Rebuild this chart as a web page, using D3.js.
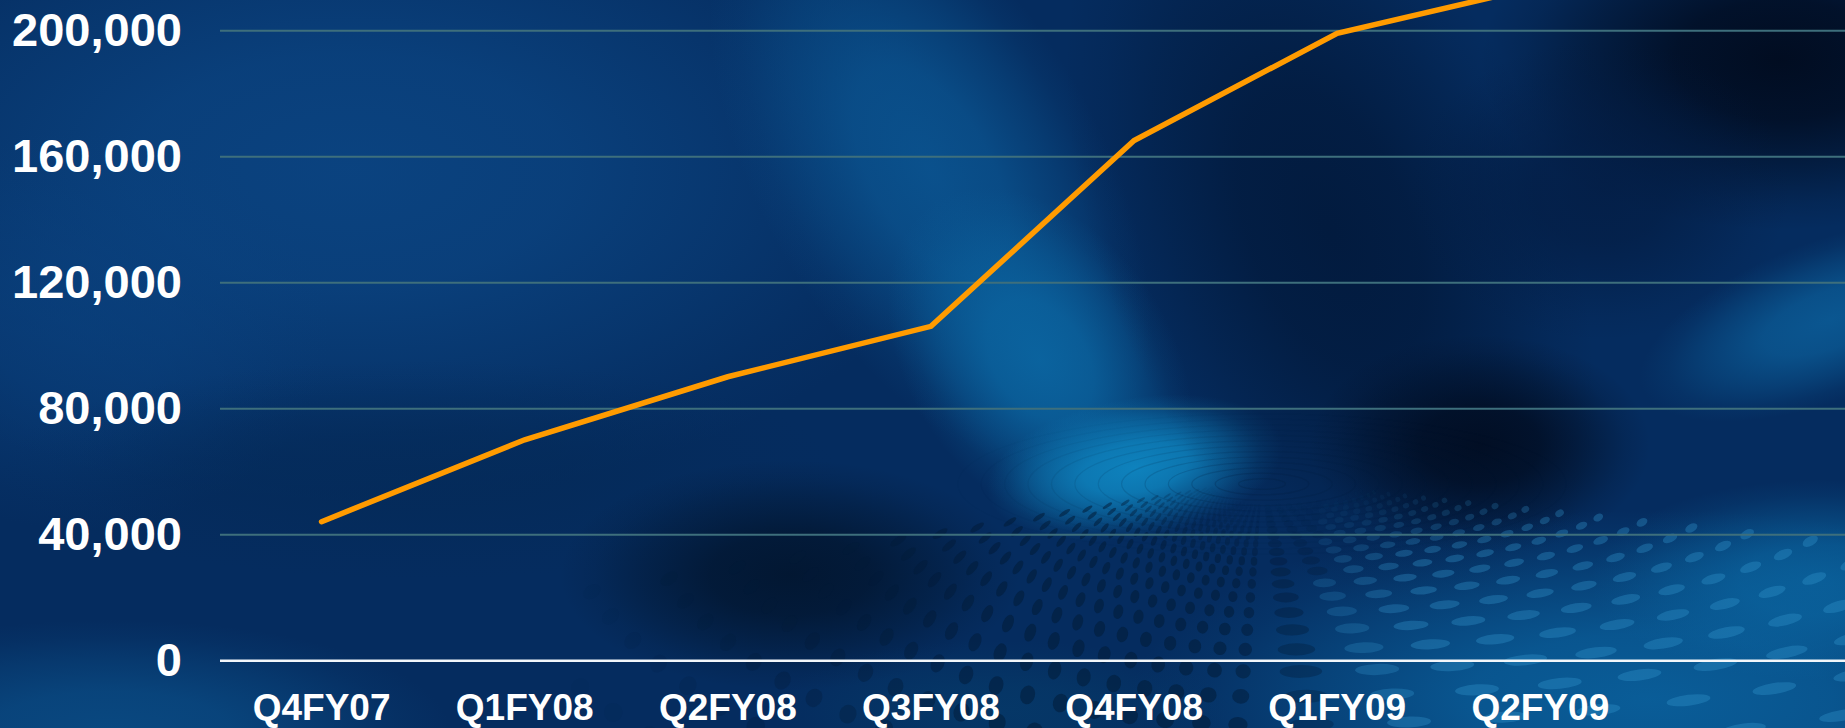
<!DOCTYPE html>
<html>
<head>
<meta charset="utf-8">
<script src="https://cdn.jsdelivr.net/npm/d3@7"></script>
<style>
  html, body { margin: 0; padding: 0; background: #052b5e; overflow: hidden; }
  svg { display: block; }
</style>
</head>
<body>
<svg id="chart" width="1845" height="728"></svg>
<script>
// ---- data ----
const categories = ["Q4FY07", "Q1FY08", "Q2FY08", "Q3FY08", "Q4FY08", "Q1FY09", "Q2FY09"];
const values = [44000, 70000, 90000, 106000, 165000, 199000, 214000];
const yTicks = [0, 40000, 80000, 120000, 160000, 200000];

// ---- layout ----
const W = 1845, H = 728;
const left = 220, slot = 203.125;
const svg = d3.select("#chart");
const defs = svg.append("defs");

// ---- background (decoration) ----
const bg = svg.append("g");
bg.append("rect").attr("width", W).attr("height", H).attr("fill", "#052c5f");

let gid = 0;
function blob(cx, cy, rx, ry, color, op, rot) {
  const id = "g" + (gid++);
  const g = defs.append("radialGradient").attr("id", id);
  [[0, 1], [0.35, 0.85], [0.65, 0.45], [0.85, 0.15], [1, 0]].forEach(s => {
    g.append("stop").attr("offset", s[0]).attr("stop-color", color).attr("stop-opacity", op * s[1]);
  });
  bg.append("ellipse").attr("cx", cx).attr("cy", cy).attr("rx", rx).attr("ry", ry)
    .attr("transform", `rotate(${rot || 0},${cx},${cy})`)
    .attr("fill", `url(#${id})`);
}
// light upper-left
blob(350, 170, 620, 330, "#0b4583", 0.9);
blob(80, 330, 250, 200, "#0a4280", 0.6);
// left middle slightly darker
blob(420, 470, 420, 110, "#042a58", 0.7);
// diagonal beam
blob(930, 170, 170, 330, "#0b5794", 0.85, -30);
blob(1040, 360, 130, 190, "#0b67a3", 0.9, -35);
blob(1135, 468, 150, 70, "#0e82bd", 1.0, -10);
// dark column right of beam
blob(1330, 230, 230, 420, "#021a3d", 0.95, -22);
blob(1480, 445, 170, 110, "#010d22", 0.95);
blob(1780, 60, 300, 170, "#010b1e", 0.95);
blob(1600, 190, 190, 150, "#031a3f", 0.7);
// light streak right edge
blob(1830, 320, 200, 80, "#0b5b96", 0.9, -20);
// dark blob centre bottom
blob(790, 575, 230, 115, "#021630", 0.95);
// bottom-left glow
blob(110, 730, 340, 110, "#0a4d86", 0.85);
// bottom-right glow
blob(1650, 700, 520, 190, "#0a629e", 0.9);
blob(1820, 580, 230, 100, "#0b6ca8", 0.7);
blob(1000, 710, 230, 70, "#06426f", 0.5);

// perspective dot field
const C = [1262, 480];
const dotsG = bg.append("g");
// faint swirl rings
for (let i = 1; i < 14; i++) {
  dotsG.append("ellipse").attr("cx", C[0]).attr("cy", C[1] + 4)
    .attr("rx", i * 9 * 2.6).attr("ry", i * 9 * 0.6)
    .attr("fill", "none").attr("stroke", "#021d3c").attr("stroke-width", 1.2)
    .attr("opacity", 0.25 * (1 - i / 14));
}
for (let k = 0; k < 40; k++) {
  const ry = 24 * Math.pow(1.13, k);
  if (ry > 800) break;
  let t = 0.42;
  while (t < Math.PI - 0.3) {
    const right = t < Math.PI / 2;
    const rx = (right ? 4.0 : 2.0) * ry;
    const dt = right ? 0.1 : 0.075;
    const x = C[0] + rx * Math.cos(t);
    const y = C[1] + ry * Math.sin(t);
    const tx = -rx * Math.sin(t), ty = ry * Math.cos(t);
    const ang = Math.atan2(ty, tx) * 180 / Math.PI;
    const tl = Math.hypot(tx, ty) * dt;
    const scale = Math.min(1, ry / 200);
    const mixR = Math.max(0, Math.min(1, (x - 1050) / 350));
    const semiT = Math.min(22, tl * (0.22 + 0.08 * mixR));
    const semiR = (5.5 + 4 * (1 - mixR)) * (0.35 + 0.65 * scale);
    let fade = Math.min(1, (ry - 24) / 60);
    if (x < 1000) fade *= Math.max(0, (x - 560) / 440);
    if (y < H + 25 && x > 0 && x < W + 60 && fade > 0.02) {
      const lightMix = Math.max(0, Math.min(1, (x - 1230) / 180));
      dotsG.append("ellipse")
        .attr("cx", x).attr("cy", y)
        .attr("rx", Math.max(1, semiT)).attr("ry", Math.max(1, semiR))
        .attr("transform", `rotate(${ang},${x},${y})`)
        .attr("fill", lightMix > 0.5 ? "#3597cf" : "#021b38")
        .attr("opacity", (lightMix > 0.5 ? 0.3 * lightMix : 0.5 * (1 - lightMix)) * fade + 0.04 * fade);
    }
    t += dt;
  }
}

// ---- scales ----
const x = d3.scaleBand().domain(categories).range([left, left + categories.length * slot]);
const y = d3.scaleLinear().domain([0, 200000]).range([660.3, 30.2]);

// ---- y axis with gridlines ----
const yAxis = svg.append("g").attr("transform", `translate(${left},0)`)
  .call(d3.axisLeft(y).tickValues(yTicks).tickSize(-(W - left)).tickPadding(38).tickFormat(d3.format(",")));
yAxis.select(".domain").remove();
yAxis.selectAll(".tick line")
  .attr("stroke", d => d === 0 ? "#f2f6fa" : "#3e6f7c")
  .attr("stroke-width", d => d === 0 ? 2.6 : 2);
yAxis.selectAll(".tick text")
  .attr("fill", "#ffffff")
  .style("font-family", "'Liberation Sans', Arial, sans-serif")
  .style("font-weight", "bold")
  .style("font-size", "47px");

// ---- x axis labels ----
const xAxis = svg.append("g").attr("transform", `translate(0,${y(0)})`)
  .call(d3.axisBottom(x).tickSize(0).tickPadding(0));
xAxis.select(".domain").remove();
xAxis.selectAll(".tick text")
  .attr("y", 59.5).attr("dy", 0)
  .attr("fill", "#ffffff")
  .style("font-family", "'Liberation Sans', Arial, sans-serif")
  .style("font-weight", "bold")
  .style("font-size", "37px");

// ---- line ----
const line = d3.line()
  .x((d, i) => x(categories[i]) + x.bandwidth() / 2)
  .y(d => y(d));
svg.append("path")
  .datum(values)
  .attr("d", line)
  .attr("fill", "none")
  .attr("stroke", "#ff9b00")
  .attr("stroke-width", 5.5)
  .attr("stroke-linecap", "round")
  .attr("stroke-linejoin", "miter");
</script>
</body>
</html>
